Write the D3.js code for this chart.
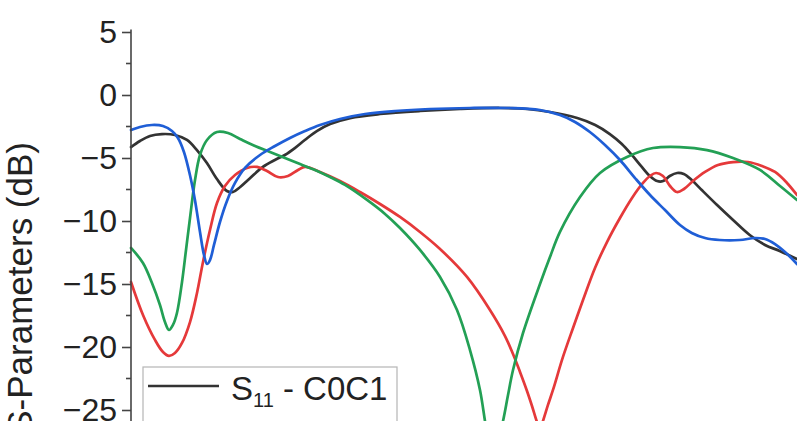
<!DOCTYPE html>
<html>
<head>
<meta charset="utf-8">
<script src="https://cdn.jsdelivr.net/npm/d3@7"></script>
<style>
  body { margin: 0; background: #fff; }
  svg { display: block; }
  text { font-family: Arial, "Liberation Sans", Helvetica, sans-serif; fill: #222; }
</style>
</head>
<body>
<svg id="chart" width="797" height="421"></svg>
<script>
// Frequency sweep in GHz, return loss in dB, as [frequency, dB] pairs.
const s11C0C1 = [
  [2.00,-4.13],[2.135,-3.65],[2.285,-3.25],[2.465,-3.10],[2.66,-3.17],[2.84,-3.57],
  [2.99,-4.37],[3.14,-5.40],[3.29,-6.67],[3.44,-7.62],[3.53,-7.70],[3.64,-7.30],
  [3.79,-6.59],[3.98,-5.71],[4.16,-5.16],[4.31,-4.76],[4.46,-4.21],[4.61,-3.57],
  [4.79,-2.86],[4.99,-2.30],[5.29,-1.83],[5.74,-1.51],[6.34,-1.27],[6.94,-1.11],
  [7.54,-1.03],[7.95,-1.11],[8.29,-1.35],[8.70,-1.83],[8.97,-2.38],[9.19,-3.10],
  [9.37,-3.89],[9.52,-4.76],[9.67,-5.71],[9.79,-6.43],[9.90,-6.83],[9.99,-6.83],
  [10.09,-6.43],[10.20,-6.19],[10.30,-6.27],[10.42,-6.75],[10.57,-7.54],[10.80,-8.73],
  [11.04,-9.92],[11.29,-11.11],[11.52,-11.90],[11.74,-12.38],[12.00,-13.02]
];

const s11Red = [
  [2.00,-14.84],[2.18,-17.46],[2.36,-19.44],[2.48,-20.40],[2.57,-20.71],[2.66,-20.48],
  [2.766,-19.68],[2.886,-18.02],[2.991,-15.71],[3.081,-13.25],[3.186,-10.71],[3.291,-8.57],
  [3.411,-7.22],[3.562,-6.35],[3.742,-5.79],[3.892,-5.71],[4.042,-6.03],[4.207,-6.51],
  [4.357,-6.43],[4.508,-5.95],[4.613,-5.71],[4.838,-6.11],[5.138,-6.83],[5.438,-7.70],
  [5.739,-8.65],[6.039,-9.68],[6.339,-10.87],[6.640,-12.22],[7.045,-14.44],[7.390,-17.06],
  [7.616,-19.13],[7.736,-20.56],[7.841,-21.98],[7.946,-23.49],[8.021,-24.68],[8.096,-25.95],
  [8.141,-26.51],[8.186,-25.87],[8.261,-24.60],[8.336,-23.41],[8.486,-20.79],[8.637,-18.49],
  [8.787,-16.27],[8.967,-13.73],[9.147,-11.67],[9.342,-9.76],[9.523,-8.17],[9.688,-6.98],
  [9.793,-6.43],[9.883,-6.19],[9.988,-6.43],[10.093,-7.22],[10.198,-7.70],[10.303,-7.46],
  [10.438,-6.83],[10.619,-6.11],[10.814,-5.56],[11.039,-5.32],[11.264,-5.32],[11.474,-5.63],
  [11.670,-6.11],[11.850,-6.98],[12.00,-7.94]
];

const s11Green = [
  [2.00,-12.14],[2.18,-13.33],[2.315,-14.92],[2.435,-16.67],[2.51,-18.02],[2.57,-18.65],
  [2.63,-18.25],[2.69,-17.30],[2.766,-14.84],[2.826,-12.30],[2.886,-9.76],[2.961,-6.75],
  [3.036,-4.76],[3.141,-3.57],[3.291,-2.94],[3.456,-3.02],[3.637,-3.49],[3.862,-4.05],
  [4.087,-4.52],[4.312,-5.00],[4.538,-5.48],[4.763,-5.95],[4.988,-6.51],[5.213,-7.14],
  [5.544,-8.33],[5.814,-9.44],[6.039,-10.56],[6.339,-12.30],[6.640,-14.44],[6.895,-17.06],
  [7.090,-20.24],[7.240,-23.41],[7.315,-25.87],[7.375,-27.78],[7.435,-28.57],[7.495,-27.78],
  [7.586,-25.87],[7.661,-23.81],[7.736,-21.83],[7.886,-18.89],[8.141,-15.00],[8.291,-12.86],
  [8.441,-10.87],[8.742,-8.10],[9.042,-6.19],[9.447,-4.92],[9.838,-4.21],[10.243,-4.13],
  [10.649,-4.37],[11.039,-5.00],[11.444,-5.95],[11.745,-7.22],[12.00,-8.33]
];

const s11Blue = [
  [2.00,-2.78],[2.135,-2.54],[2.315,-2.38],[2.48,-2.46],[2.615,-2.86],[2.705,-3.41],
  [2.795,-4.52],[2.885,-6.35],[2.96,-8.33],[3.036,-10.87],[3.096,-12.70],[3.141,-13.41],
  [3.186,-13.10],[3.246,-11.90],[3.336,-10.08],[3.441,-8.41],[3.562,-6.98],[3.712,-5.79],
  [3.937,-4.76],[4.162,-4.05],[4.387,-3.41],[4.613,-2.86],[4.838,-2.38],[5.138,-1.90],
  [5.514,-1.51],[5.964,-1.27],[6.489,-1.11],[7.09,-1.03],[7.69,-1.03],[8.14,-1.19],
  [8.44,-1.59],[8.667,-2.14],[8.89,-2.94],[9.117,-3.97],[9.342,-5.16],[9.568,-6.59],
  [9.793,-7.94],[10.018,-9.13],[10.243,-10.32],[10.42,-10.95],[10.62,-11.35],[10.84,-11.51],
  [11.14,-11.51],[11.37,-11.35],[11.52,-11.43],[11.67,-11.83],[11.82,-12.46],[12.00,-13.41]
];

const yMajorTicks = [5, 0, -5, -10, -15, -20, -25, -30, -35];
const yMinorTicks = [2.5, -2.5, -7.5, -12.5, -17.5, -22.5, -27.5, -32.5];
const yTitle = "S-Parameters (dB)";
const legendEntries = [{ base: "S", sub: "11", rest: " - C0C1", color: "#333333" }];

const seriesList = [
  { data: s11C0C1,  color: "#333333" },
  { data: s11Red,   color: "#e5393a" },
  { data: s11Green, color: "#23a055" },
  { data: s11Blue,  color: "#1f5ed6" }
];

const svg = d3.select("#chart");
const axisX = 131;

const x = d3.scaleLinear().domain([2, 12]).range([axisX, 797]);
const y = d3.scaleLinear().domain([-25, 5]).range([410, 32]);

// Curves
const line = d3.line()
  .x(d => x(d[0]))
  .y(d => y(d[1]))
  .curve(d3.curveCatmullRom.alpha(0.5));

svg.append("g")
  .selectAll("path")
  .data(seriesList)
  .join("path")
  .attr("d", d => line(d.data))
  .attr("fill", "none")
  .attr("stroke", d => d.color)
  .attr("stroke-width", 2.7)
  .attr("stroke-linejoin", "round")
  .attr("stroke-linecap", "round");

// Left axis with outward major ticks and short minor ticks
const yAxis = svg.append("g").attr("transform", `translate(${axisX},0)`);
yAxis.call(
  d3.axisLeft(y)
    .tickValues(yMajorTicks)
    .tickSize(9)
    .tickPadding(5)
    .tickFormat(d3.format("d"))
);
yAxis.select(".domain")
  .attr("d", `M0,${y(5.2)}V${y(-40)}`)
  .attr("stroke", "#444")
  .attr("stroke-width", 1.6);
yAxis.selectAll(".tick line").attr("stroke", "#444").attr("stroke-width", 1.6);
yAxis.selectAll(".tick text")
  .attr("font-size", 32)
  .attr("fill", "#222")
  .attr("font-family", "Arial, 'Liberation Sans', sans-serif");

yAxis.selectAll(".minor")
  .data(yMinorTicks)
  .join("line")
  .attr("class", "minor")
  .attr("x1", -5).attr("x2", 0)
  .attr("y1", d => y(d)).attr("y2", d => y(d))
  .attr("stroke", "#444")
  .attr("stroke-width", 1.6);

// Axis title
svg.append("text")
  .attr("transform", `translate(32,142) rotate(-90)`)
  .attr("text-anchor", "end")
  .attr("font-size", 35)
  .text(yTitle);

// Legend
const legend = svg.append("g").attr("transform", "translate(143,367)");
legend.append("rect")
  .attr("x", 0).attr("y", 0)
  .attr("width", 254).attr("height", 160)
  .attr("fill", "#fff")
  .attr("stroke", "#b5b5b5")
  .attr("stroke-width", 1.2);

legendEntries.forEach((e, i) => {
  const row = legend.append("g").attr("transform", `translate(0,${i * 38})`);
  row.append("line")
    .attr("x1", 5).attr("x2", 76)
    .attr("y1", 19).attr("y2", 19)
    .attr("stroke", e.color)
    .attr("stroke-width", 2.7);
  const t = row.append("text")
    .attr("x", 88).attr("y", 33)
    .attr("font-size", 33);
  t.append("tspan").text(e.base);
  t.append("tspan").attr("font-size", 20).attr("dy", 7).text(e.sub);
  t.append("tspan").attr("dy", -7).text(e.rest);
});
</script>
</body>
</html>
